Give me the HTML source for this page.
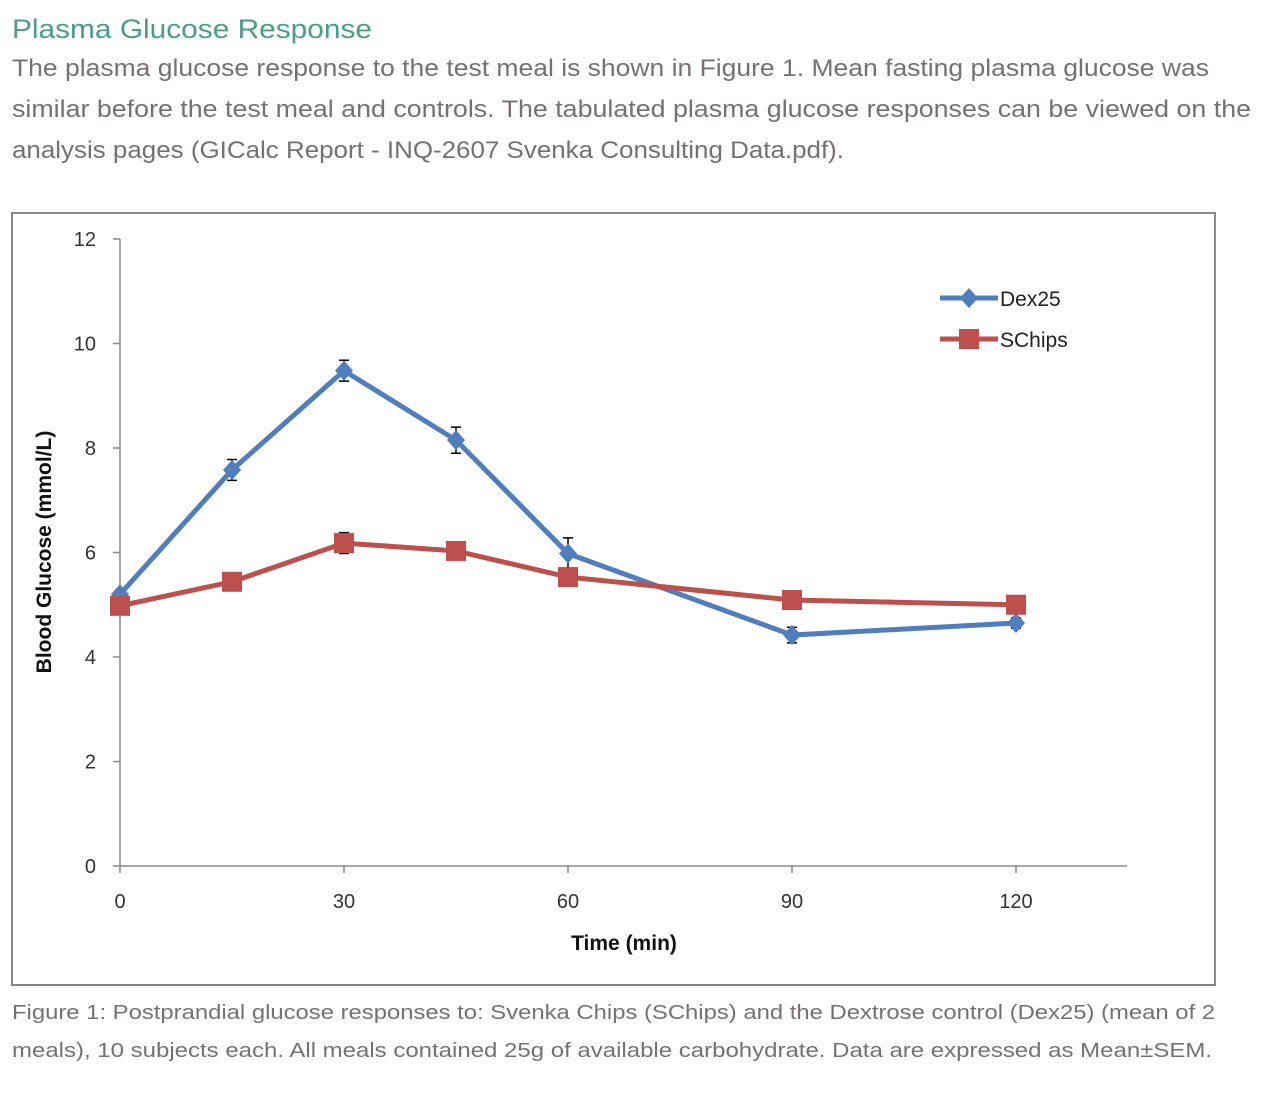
<!DOCTYPE html>
<html><head><meta charset="utf-8"><style>
body{margin:0;background:#fff;width:1270px;height:1098px;overflow:hidden;font-family:"Liberation Sans",sans-serif}
svg{position:absolute;left:0;top:0}
</style></head><body>
<svg width="1270" height="1098">
<text x="12" y="38" font-size="27" fill="#4a9e84" textLength="360" lengthAdjust="spacingAndGlyphs">Plasma Glucose Response</text>
<g fill="#767171" font-size="24">
<text x="12" y="76" textLength="1197" lengthAdjust="spacingAndGlyphs">The plasma glucose response to the test meal is shown in Figure 1. Mean fasting plasma glucose was</text>
<text x="12" y="117" textLength="1239" lengthAdjust="spacingAndGlyphs">similar before the test meal and controls. The tabulated plasma glucose responses can be viewed on the</text>
<text x="12" y="158" textLength="832" lengthAdjust="spacingAndGlyphs">analysis pages (GICalc Report - INQ-2607 Svenka Consulting Data.pdf).</text>
</g>
<rect x="12" y="213" width="1203" height="772" fill="#fff" stroke="#888" stroke-width="2"/>
<g id="chart"></g>
<g fill="#767171" font-size="20">
<text x="12" y="1019" textLength="1203" lengthAdjust="spacingAndGlyphs">Figure 1: Postprandial glucose responses to: Svenka Chips (SChips) and the Dextrose control (Dex25) (mean of 2</text>
<text x="12" y="1057" textLength="1200" lengthAdjust="spacingAndGlyphs">meals), 10 subjects each. All meals contained 25g of available carbohydrate. Data are expressed as Mean±SEM.</text>
</g>
</svg>
<script>
const times=[0,15,30,45,60,90,120];
const dex=[5.2,7.58,9.48,8.15,5.98,4.42,4.65];
const dexErr=[0.08,0.2,0.2,0.25,0.3,0.15,0.1];
const chips=[4.98,5.44,6.18,6.03,5.53,5.09,5.0];
const chipsErr=[0.05,0.08,0.2,0.08,0.1,0.08,0.05];
const yTicks=[0,2,4,6,8,10,12];
const xTicks=[0,30,60,90,120];
const NS="http://www.w3.org/2000/svg";
const g=document.getElementById('chart');
const X=t=>120+t*224/30, Y=v=>866-v*52.25;
function mk(tag,a,txt){const e=document.createElementNS(NS,tag);for(const k in a)e.setAttribute(k,a[k]);if(txt!=null)e.textContent=txt;g.appendChild(e);return e;}
let e=mk('line',{x1:120,y1:239,x2:120,y2:866,stroke:'#888','stroke-width':1.5});


e=mk('line',{x1:120,y1:866,x2:1127,y2:866,stroke:'#888','stroke-width':1.5});


yTicks.forEach(v=>{mk('line',{x1:113,y1:Y(v),x2:120,y2:Y(v),stroke:'#888','stroke-width':1.5});
e=mk('text',{x:96,y:Y(v)+7,'font-size':20,fill:'#333','text-anchor':'end'},v);

});
xTicks.forEach(t=>{mk('line',{x1:X(t),y1:866,x2:X(t),y2:873,stroke:'#888','stroke-width':1.5});
e=mk('text',{x:X(t),y:908,'font-size':20,fill:'#333','text-anchor':'middle'},t);

});
e=mk('text',{x:624,y:950,'font-size':21,'font-weight':'bold',fill:'#111','text-anchor':'middle'},'Time (min)');


e=mk('text',{x:0,y:0,'font-size':21,'font-weight':'bold',fill:'#111','text-anchor':'middle',transform:'translate(51,552) rotate(-90)'},'Blood Glucose (mmol/L)');


function series(vals,errs,color,name,sq){
 times.forEach((t,i)=>{const x=X(t),y1=Y(vals[i]+errs[i]),y2=Y(vals[i]-errs[i]);
  mk('path',{d:`M${x},${y1}V${y2}M${x-5},${y1}H${x+5}M${x-5},${y2}H${x+5}`,stroke:'#000','stroke-width':1.5,fill:'none'});});
 e=mk('polyline',{points:times.map((t,i)=>X(t)+','+Y(vals[i])).join(' '),fill:'none',stroke:color,'stroke-width':5});
 
 
 times.forEach((t,i)=>{const x=X(t),y=Y(vals[i]);
  e=sq?mk('rect',{x:x-10,y:y-10,width:20,height:20,fill:color}):mk('path',{d:`M${x},${y-10}L${x+9},${y}L${x},${y+10}L${x-9},${y}Z`,fill:color});
  
  });
}
series(dex,dexErr,'#4f7dbd','dex25',false);
series(chips,chipsErr,'#bd4f4c','schips',true);
function leg(y,color,label,sq){
 mk('line',{x1:940,y1:y,x2:998,y2:y,stroke:color,'stroke-width':5});
 if(sq)mk('rect',{x:959,y:y-10,width:20,height:20,fill:color});else mk('path',{d:`M969,${y-10}L978,${y}L969,${y+10}L960,${y}Z`,fill:color});
 e=mk('text',{x:1000,y:y+8,'font-size':21,fill:'#222'},label);
 
 
}
leg(298,'#4f7dbd','Dex25',false);
leg(339,'#bd4f4c','SChips',true);
</script>
</body></html>
